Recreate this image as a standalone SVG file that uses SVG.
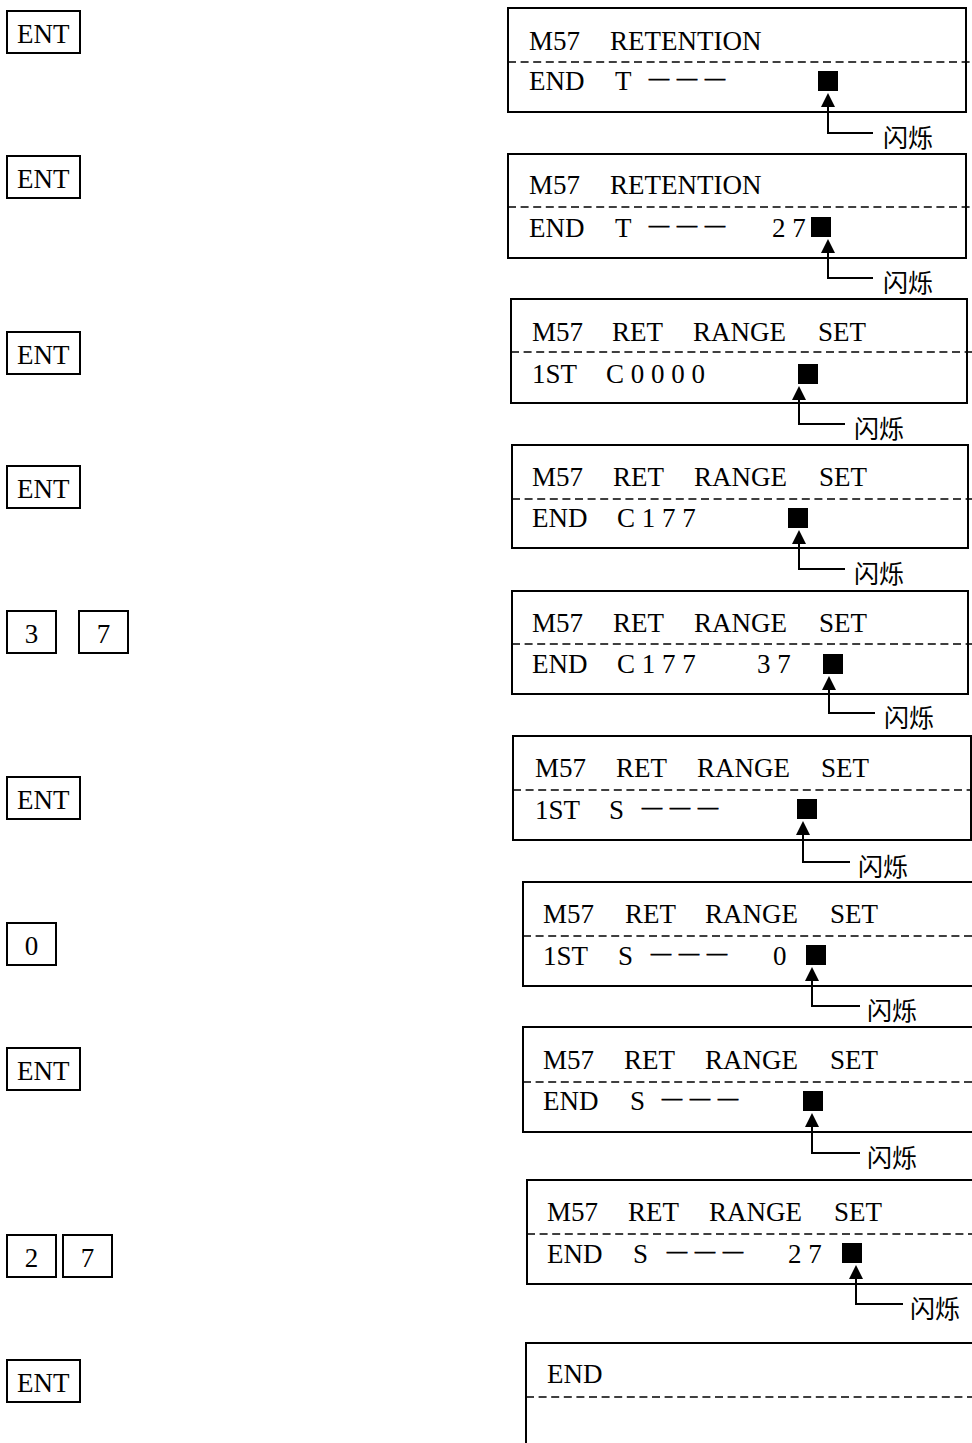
<svg xmlns="http://www.w3.org/2000/svg" width="972" height="1443" viewBox="0 0 972 1443">
<defs>
<style>
.t{font-family:"Liberation Serif","Times New Roman",serif;font-size:27px;fill:#000}
.d{font-family:"Liberation Serif","Times New Roman",serif;font-size:20px;letter-spacing:8px;fill:#000;stroke:#000;stroke-width:0.7}
.cn{font-family:"Noto Sans CJK SC",sans-serif;font-size:25px;fill:#000}
.box{fill:none;stroke:#000;stroke-width:2}
.key{fill:none;stroke:#000;stroke-width:2}
.dash{stroke:#000;stroke-width:1.5;stroke-dasharray:8 4.6}
.sq{fill:#000}
.ar{fill:none;stroke:#000;stroke-width:2;marker-end:url(#ah)}
.km{text-anchor:middle}
</style>
<marker id="ah" markerUnits="userSpaceOnUse" markerWidth="14" markerHeight="14" refX="11" refY="7" orient="auto">
<path d="M0,0 L14,7 L0,14 z" fill="#000"/>
</marker>
</defs>
<rect width="972" height="1443" fill="#fff"/>

<g id="keys">
<g id="key1"><rect class="key" x="7" y="11" width="73" height="42"/><text class="t" x="17" y="43">ENT</text></g>
<g id="key2"><rect class="key" x="7" y="156" width="73" height="42"/><text class="t" x="17" y="188">ENT</text></g>
<g id="key3"><rect class="key" x="7" y="332" width="73" height="42"/><text class="t" x="17" y="364">ENT</text></g>
<g id="key4"><rect class="key" x="7" y="466" width="73" height="42"/><text class="t" x="17" y="498">ENT</text></g>
<g id="key5"><rect class="key" x="7" y="611" width="49" height="42"/><text class="t km" x="31.5" y="643">3</text></g>
<g id="key6"><rect class="key" x="79" y="611" width="49" height="42"/><text class="t km" x="103.5" y="643">7</text></g>
<g id="key7"><rect class="key" x="7" y="777" width="73" height="42"/><text class="t" x="17" y="809">ENT</text></g>
<g id="key8"><rect class="key" x="7" y="923" width="49" height="42"/><text class="t km" x="31.5" y="955">0</text></g>
<g id="key9"><rect class="key" x="7" y="1048" width="73" height="42"/><text class="t" x="17" y="1080">ENT</text></g>
<g id="key10"><rect class="key" x="7" y="1235" width="49" height="42"/><text class="t km" x="31.5" y="1267">2</text></g>
<g id="key11"><rect class="key" x="63" y="1235" width="49" height="42"/><text class="t km" x="87.5" y="1267">7</text></g>
<g id="key12"><rect class="key" x="7" y="1360" width="73" height="42"/><text class="t" x="17" y="1392">ENT</text></g>
</g>

<g id="screen1">
<rect class="box" x="508" y="8" width="458" height="104"/>
<line class="dash" x1="508" y1="62" x2="972" y2="62"/>
<text class="t" x="529" y="50">M57</text><text class="t" x="610" y="50">RETENTION</text>
<text class="t" x="529" y="90">END</text><text class="t" x="615" y="90">T</text>
<text class="d" x="649" y="84.5">———</text>
<rect class="sq" x="818" y="71" width="20" height="20"/>
<text class="cn" x="883" y="147">闪烁</text>
</g>

<g id="screen2">
<rect class="box" x="508" y="154" width="458" height="104"/>
<line class="dash" x1="508" y1="207" x2="972" y2="207"/>
<text class="t" x="529" y="194">M57</text><text class="t" x="610" y="194">RETENTION</text>
<text class="t" x="529" y="237">END</text><text class="t" x="615" y="237">T</text>
<text class="d" x="649" y="231.5">———</text>
<text class="t" x="772" y="237">2 7</text>
<rect class="sq" x="811" y="217" width="20" height="20"/>
<text class="cn" x="883" y="292">闪烁</text>
</g>

<g id="screen3">
<rect class="box" x="511" y="299" width="456" height="104"/>
<line class="dash" x1="511" y1="352" x2="972" y2="352"/>
<text class="t" x="532" y="341">M57</text><text class="t" x="612" y="341">RET</text><text class="t" x="693" y="341">RANGE</text><text class="t" x="818" y="341">SET</text>
<text class="t" x="532" y="383">1ST</text><text class="t" x="606" y="383">C 0 0 0 0</text>
<rect class="sq" x="798" y="364" width="20" height="20"/>
<text class="cn" x="854" y="438">闪烁</text>
</g>

<g id="screen4">
<rect class="box" x="512" y="445" width="456" height="103"/>
<line class="dash" x1="512" y1="499" x2="972" y2="499"/>
<text class="t" x="532" y="486">M57</text><text class="t" x="613" y="486">RET</text><text class="t" x="694" y="486">RANGE</text><text class="t" x="819" y="486">SET</text>
<text class="t" x="532" y="527">END</text><text class="t" x="617" y="527">C 1 7 7</text>
<rect class="sq" x="788" y="508" width="20" height="20"/>
<text class="cn" x="854" y="583">闪烁</text>
</g>

<g id="screen5">
<rect class="box" x="512" y="591" width="456" height="103"/>
<line class="dash" x1="512" y1="644" x2="972" y2="644"/>
<text class="t" x="532" y="632">M57</text><text class="t" x="613" y="632">RET</text><text class="t" x="694" y="632">RANGE</text><text class="t" x="819" y="632">SET</text>
<text class="t" x="532" y="673">END</text><text class="t" x="617" y="673">C 1 7 7</text>
<text class="t" x="757" y="673">3 7</text>
<rect class="sq" x="823" y="654" width="20" height="20"/>
<text class="cn" x="884" y="727">闪烁</text>
</g>

<g id="screen6">
<rect class="box" x="513" y="736" width="458" height="104"/>
<line class="dash" x1="513" y1="790" x2="972" y2="790"/>
<text class="t" x="535" y="777">M57</text><text class="t" x="616" y="777">RET</text><text class="t" x="697" y="777">RANGE</text><text class="t" x="821" y="777">SET</text>
<text class="t" x="535" y="819">1ST</text><text class="t" x="609" y="819">S</text>
<text class="d" x="642" y="813.5">———</text>
<rect class="sq" x="797" y="799" width="20" height="20"/>
<text class="cn" x="858" y="876">闪烁</text>
</g>

<g id="screen7">
<rect class="box" x="523" y="882" width="470" height="104"/>
<line class="dash" x1="523" y1="936" x2="972" y2="936"/>
<text class="t" x="543" y="923">M57</text><text class="t" x="625" y="923">RET</text><text class="t" x="705" y="923">RANGE</text><text class="t" x="830" y="923">SET</text>
<text class="t" x="543" y="965">1ST</text><text class="t" x="618" y="965">S</text>
<text class="d" x="651" y="959.5">———</text>
<text class="t" x="773" y="965">0</text>
<rect class="sq" x="806" y="945" width="20" height="20"/>
<text class="cn" x="867" y="1020">闪烁</text>
</g>

<g id="screen8">
<rect class="box" x="523" y="1027" width="470" height="105"/>
<line class="dash" x1="523" y1="1082" x2="972" y2="1082"/>
<text class="t" x="543" y="1069">M57</text><text class="t" x="624" y="1069">RET</text><text class="t" x="705" y="1069">RANGE</text><text class="t" x="830" y="1069">SET</text>
<text class="t" x="543" y="1110">END</text><text class="t" x="630" y="1110">S</text>
<text class="d" x="662" y="1104.5">———</text>
<rect class="sq" x="803" y="1091" width="20" height="20"/>
<text class="cn" x="867" y="1167">闪烁</text>
</g>

<g id="screen9">
<rect class="box" x="527" y="1180" width="470" height="104"/>
<line class="dash" x1="527" y1="1234" x2="972" y2="1234"/>
<text class="t" x="547" y="1221">M57</text><text class="t" x="628" y="1221">RET</text><text class="t" x="709" y="1221">RANGE</text><text class="t" x="834" y="1221">SET</text>
<text class="t" x="547" y="1263">END</text><text class="t" x="633" y="1263">S</text>
<text class="d" x="667" y="1257.5">———</text>
<text class="t" x="788" y="1263">2 7</text>
<rect class="sq" x="842" y="1243" width="20" height="20"/>
<text class="cn" x="910" y="1318">闪烁</text>
</g>

<g id="screen10">
<rect class="box" x="526" y="1343" width="470" height="130"/>
<line class="dash" x1="526" y1="1397" x2="972" y2="1397"/>
<text class="t" x="547" y="1383">END</text>
</g>

<g id="connectors">
<path class="ar" d="M873,133 H828 V96"/>
<path class="ar" d="M873,278 H828 V242"/>
<path class="ar" d="M845,424 H799 V389"/>
<path class="ar" d="M845,569 H799 V533"/>
<path class="ar" d="M875,713 H829 V679"/>
<path class="ar" d="M850,862 H803 V824"/>
<path class="ar" d="M860,1006 H812 V970"/>
<path class="ar" d="M860,1153 H812 V1116"/>
<path class="ar" d="M903,1304 H856 V1268"/>
</g>
</svg>
